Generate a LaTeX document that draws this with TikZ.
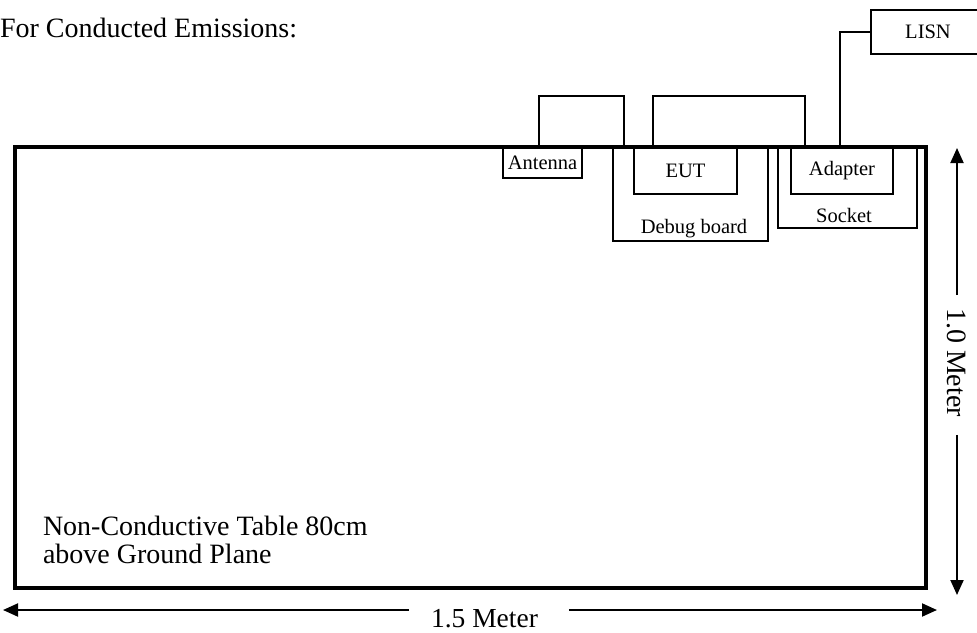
\documentclass[tikz,border=0pt]{standalone}
\usepackage{fontspec}
\setmainfont{Liberation Serif}
\usetikzlibrary{arrows.meta}
\tikzset{
  tablebox/.style={draw, line width=4pt, inner sep=0pt, outer sep=0pt, minimum width=911pt, minimum height=440.5pt},
  devbox/.style={draw, line width=1.4pt, inner sep=0pt, outer sep=0pt, font=\fontsize{20.5}{24}\selectfont},
  cable/.style={line width=1.4pt},
  dimline/.style={line width=2pt, -{Triangle[length=15pt,width=13pt]}},
  bigtxt/.style={font=\fontsize{28}{32}\selectfont, inner sep=0pt, outer sep=0pt},
  smalltxt/.style={font=\fontsize{20.5}{24}\selectfont, inner sep=0pt, outer sep=0pt},
}
\begin{document}
\begin{tikzpicture}[x=1pt,y=-1pt]
\useasboundingbox (0,0) rectangle (977,632);
% title
\node[bigtxt, anchor=base west] (title) at (0,37) {For Conducted Emissions:};
% devices
\node[devbox, minimum width=79pt, minimum height=31pt] (antenna) at (542.5,162.5) {Antenna};
\node[devbox, minimum width=155pt, minimum height=94pt] (debug) at (690.5,194) {};
\node[smalltxt, anchor=base] (debuglbl) at (694,233) {Debug board};
\node[devbox, minimum width=103pt, minimum height=47pt] (eut) at (685.5,170.5) {EUT};
\node[devbox, minimum width=139pt, minimum height=81pt] (socket) at (847.5,187.5) {};
\node[smalltxt, anchor=base] (socketlbl) at (844,222) {Socket};
\node[devbox, minimum width=102pt, minimum height=47pt] (adapter) at (842,170.5) {Adapter};
\node[devbox, minimum width=114pt, minimum height=44pt] (lisn) at (928,32) {LISN};
% cables
\draw[cable] ([xshift=-3.5pt]antenna.north) -- ++(0,-51) -| ([xshift=11pt]debug.north west);
\draw[cable] ([xshift=19pt]eut.north west) -- ++(0,-51) -| ([xshift=27pt]socket.north west);
\draw[cable] ([xshift=-2pt]adapter.north) |- (lisn.west);
% table
\node[tablebox] (table) at (470.5,367.25) {};
\node[bigtxt, anchor=base west] (tbl1) at (43,535) {Non-Conductive Table 80cm};
\node[bigtxt, anchor=base west] (tbl2) at (43,563) {above Ground Plane};
% dimensions
\coordinate (vtop) at (957,148);
\coordinate (vbot) at (957,595);
\node[bigtxt, rotate=-90] (vlab) at (957,362.5) {1.0 Meter};
\draw[dimline] ([yshift=13pt]vlab.west) -- (vtop);
\draw[dimline] ([yshift=-18pt]vlab.east) -- (vbot);
\coordinate (hl) at (3,610);
\coordinate (hr) at (937,610);
\node[bigtxt, anchor=base, font=\fontsize{27.5}{32}\selectfont] (hlab) at (484.5,627) {1.5 Meter};
\draw[dimline] ([xshift=-22pt]hlab.west |- hl) -- (hl);
\draw[dimline] ([xshift=31pt]hlab.east |- hr) -- (hr);
\end{tikzpicture}
\end{document}
